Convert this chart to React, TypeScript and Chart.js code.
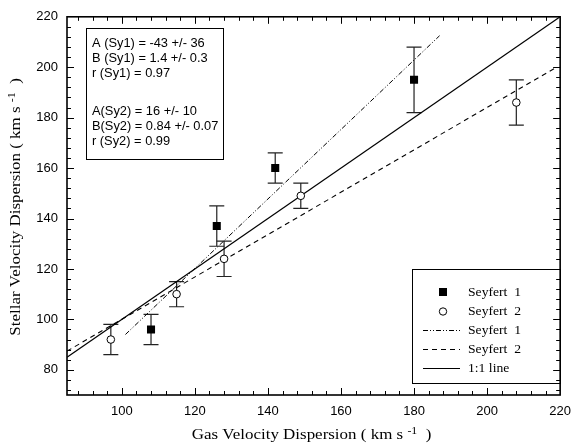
import React, { useEffect, useRef } from "react";
import { Chart, registerables } from "chart.js";

Chart.register(...registerables);

// Seyfert 1 measurements (filled squares)
const sy1X = [108, 126, 142, 180];
const sy1Y = [96, 137, 160, 195];
const sy1Lo = [90, 129, 154, 182];
const sy1Hi = [102, 145, 166, 208];

// Seyfert 2 measurements (open circles)
const sy2X = [97, 115, 128, 149, 208];
const sy2Y = [92, 110, 124, 149, 186];
const sy2Lo = [86, 105, 117, 144, 177];
const sy2Hi = [98, 115, 131, 154, 195];

// Fit lines (end points)
const fit1X = [101, 187];
const fit1Y = [94, 212.5];
const fit2X = [85, 219];
const fit2Y = [87.4, 200];
const oneX = [85, 220];
const oneY = [85, 220];

const xTicks = [100, 120, 140, 160, 180, 200, 220];
const yTicks = [80, 100, 120, 140, 160, 180, 200, 220];

const fitText = [
  "A (Sy1) = -43 +/- 36",
  "B (Sy1) = 1.4 +/- 0.3",
  "r (Sy1) = 0.97",
  "",
  "A(Sy2) = 16 +/- 10",
  "B(Sy2) = 0.84 +/- 0.07",
  "r (Sy2) = 0.99",
];

const legendLabels = ["Seyfert  1", "Seyfert  2", "Seyfert  1", "Seyfert  2", "1:1 line"];

const xTitle = ["Gas Velocity Dispersion ( km s ", "-1", "  )"];
const yTitle = ["Stellar Velocity Dispersion ( km s ", "-1", "  )"];

const SANS = "'Liberation Sans', Arial, sans-serif";
const SERIF = "'Liberation Serif', 'Times New Roman', serif";

const toPts = (xs: number[], ys: number[]) => xs.map((x, i) => ({ x, y: ys[i] }));

function drawTitle(ctx: CanvasRenderingContext2D, parts: string[], cx: number, base: number, stretch: number) {
  const big = `15px ${SERIF}`;
  const small = `10.5px ${SERIF}`;
  ctx.save();
  ctx.translate(cx, base);
  ctx.scale(stretch, 1);
  ctx.font = big;
  const w0 = ctx.measureText(parts[0]).width;
  const w2 = ctx.measureText(parts[2]).width;
  ctx.font = small;
  const w1 = ctx.measureText(parts[1]).width;
  const total = w0 + w1 + w2;
  let x = -total / 2;
  ctx.textAlign = "left";
  ctx.textBaseline = "alphabetic";
  ctx.font = big;
  ctx.fillText(parts[0], x, 0);
  x += w0;
  ctx.font = small;
  ctx.fillText(parts[1], x, -5.5);
  x += w1;
  ctx.font = big;
  ctx.fillText(parts[2], x, 0);
  ctx.restore();
}

const decorPlugin = {
  id: "decor",
  beforeDatasetsDraw(chart: any) {
    const { ctx, scales } = chart;
    const x = scales.x;
    const y = scales.y;
    ctx.save();
    ctx.strokeStyle = "#222";
    ctx.lineWidth = 1.2;
    const bars = (xs: number[], lo: number[], hi: number[]) => {
      xs.forEach((v, i) => {
        const px = x.getPixelForValue(v);
        const p1 = y.getPixelForValue(lo[i]);
        const p2 = y.getPixelForValue(hi[i]);
        ctx.beginPath();
        ctx.moveTo(px, p1);
        ctx.lineTo(px, p2);
        ctx.moveTo(px - 7.5, p1);
        ctx.lineTo(px + 7.5, p1);
        ctx.moveTo(px - 7.5, p2);
        ctx.lineTo(px + 7.5, p2);
        ctx.stroke();
      });
    };
    bars(sy1X, sy1Lo, sy1Hi);
    bars(sy2X, sy2Lo, sy2Hi);
    ctx.restore();
  },
  afterDraw(chart: any) {
    const { ctx, chartArea: a, scales } = chart;
    const x = scales.x;
    const y = scales.y;
    ctx.save();
    // frame
    ctx.strokeStyle = "#000";
    ctx.lineWidth = 1.6;
    ctx.strokeRect(a.left, a.top, a.right - a.left, a.bottom - a.top);
    // inward ticks
    ctx.lineWidth = 1;
    ctx.beginPath();
    for (let v = 88; v < 220; v += 4) {
      const px = Math.round(x.getPixelForValue(v)) + 0.5;
      const len = v % 20 === 0 ? 7 : 4;
      ctx.moveTo(px, a.bottom);
      ctx.lineTo(px, a.bottom - len);
      ctx.moveTo(px, a.top);
      ctx.lineTo(px, a.top + len);
    }
    for (let v = 72; v < 220; v += 4) {
      const py = Math.round(y.getPixelForValue(v)) + 0.5;
      const len = v % 20 === 0 ? 7 : 4;
      ctx.moveTo(a.left, py);
      ctx.lineTo(a.left + len, py);
      ctx.moveTo(a.right, py);
      ctx.lineTo(a.right - len, py);
    }
    ctx.stroke();

    // fit parameter box
    ctx.lineWidth = 1;
    ctx.strokeRect(86.5, 28.5, 137, 131);
    ctx.fillStyle = "#000";
    ctx.textAlign = "left";
    ctx.textBaseline = "middle";
    fitText.forEach((t, i) => {
      const yy = i < 3 ? 44 + i * 15 : 112 + (i - 4) * 15;
      if (!t) return;
      ctx.save();
      ctx.translate(92, yy);
      ctx.scale(1.07, 1);
      ctx.font = `12px ${SANS}`;
      ctx.fillText(t, 0, 0);
      ctx.restore();
    });

    // legend box
    ctx.strokeRect(412.5, 269.5, 148, 114);
    const rows = [292, 311.5, 330.5, 349.5, 368.5];
    ctx.font = `13px ${SERIF}`;
    legendLabels.forEach((t, i) => {
      ctx.save();
      ctx.translate(468, rows[i] + 0.5);
      ctx.scale(1.05, 1);
      ctx.fillText(t, 0, 0);
      ctx.restore();
    });
    // symbols
    ctx.fillStyle = "#000";
    ctx.fillRect(443 - 4, rows[0] - 4, 8, 8);
    ctx.beginPath();
    ctx.arc(443, rows[1], 3.7, 0, Math.PI * 2);
    ctx.fillStyle = "#fff";
    ctx.fill();
    ctx.strokeStyle = "#000";
    ctx.stroke();
    const sample = (r: number, dash: number[]) => {
      ctx.setLineDash(dash);
      ctx.beginPath();
      ctx.moveTo(423, r);
      ctx.lineTo(460, r);
      ctx.stroke();
    };
    sample(rows[2], [5, 2, 1, 2, 1, 2]);
    sample(rows[3], [5, 4]);
    sample(rows[4], []);
    ctx.setLineDash([]);

    // axis titles
    ctx.fillStyle = "#000";
    drawTitle(ctx, xTitle, (a.left + a.right) / 2 - 2, 439, 1.13);
    ctx.save();
    ctx.translate(20, (a.top + a.bottom) / 2 + 1);
    ctx.rotate(-Math.PI / 2);
    drawTitle(ctx, yTitle, 0, 0, 1.13);
    ctx.restore();
    ctx.restore();
  },
};

export default function App() {
  const ref = useRef<HTMLCanvasElement | null>(null);
  useEffect(() => {
    if (!ref.current) return;
    const chart = new Chart(ref.current, {
      type: "scatter",
      data: {
        datasets: [
          {
            label: "Seyfert 1",
            data: toPts(sy1X, sy1Y),
            pointStyle: "rect",
            pointRadius: 5.7,
            backgroundColor: "#000",
            borderColor: "#000",
            borderWidth: 0,
          },
          {
            label: "Seyfert 2",
            data: toPts(sy2X, sy2Y),
            pointStyle: "circle",
            pointRadius: 3.8,
            backgroundColor: "#fff",
            borderColor: "#000",
            borderWidth: 1,
          },
          {
            type: "line",
            label: "Seyfert 1 fit",
            data: toPts(fit1X, fit1Y),
            showLine: true,
            pointRadius: 0,
            borderColor: "#000",
            borderWidth: 1,
            borderDash: [5, 2, 1, 2, 1, 2],
            fill: false,
          },
          {
            type: "line",
            label: "Seyfert 2 fit",
            data: toPts(fit2X, fit2Y),
            showLine: true,
            pointRadius: 0,
            borderColor: "#000",
            borderWidth: 1.1,
            borderDash: [5, 4],
            fill: false,
          },
          {
            type: "line",
            label: "1:1 line",
            data: toPts(oneX, oneY),
            showLine: true,
            pointRadius: 0,
            borderColor: "#000",
            borderWidth: 1.2,
            fill: false,
          },
        ] as any,
      },
      options: {
        animation: false,
        responsive: true,
        maintainAspectRatio: false,
        layout: { padding: { top: 15, right: 11, left: 0, bottom: 0 } },
        plugins: { legend: { display: false }, tooltip: { enabled: false } },
        scales: {
          x: {
            type: "linear",
            min: 85,
            max: 220,
            grid: { display: false, drawTicks: false },
            border: { display: false },
            afterBuildTicks: (s: any) => {
              s.ticks = xTicks.map((v) => ({ value: v }));
            },
            afterFit: (s: any) => {
              s.height = 49;
            },
            ticks: {
              color: "#000",
              font: { family: SANS, size: 13 },
              padding: 9,
              maxRotation: 0,
            },
          },
          y: {
            type: "linear",
            min: 70,
            max: 220,
            grid: { display: false, drawTicks: false },
            border: { display: false },
            afterBuildTicks: (s: any) => {
              s.ticks = yTicks.map((v) => ({ value: v }));
            },
            afterFit: (s: any) => {
              s.width = 67;
            },
            ticks: {
              color: "#000",
              font: { family: SANS, size: 13 },
              padding: 9,
            },
          },
        },
      } as any,
      plugins: [decorPlugin],
    });
    return () => chart.destroy();
  }, []);
  return (
    <div style={{ position: "absolute", left: 0, top: 0, width: 580, height: 444, background: "#fff" }}>
      <canvas ref={ref} />
    </div>
  );
}
